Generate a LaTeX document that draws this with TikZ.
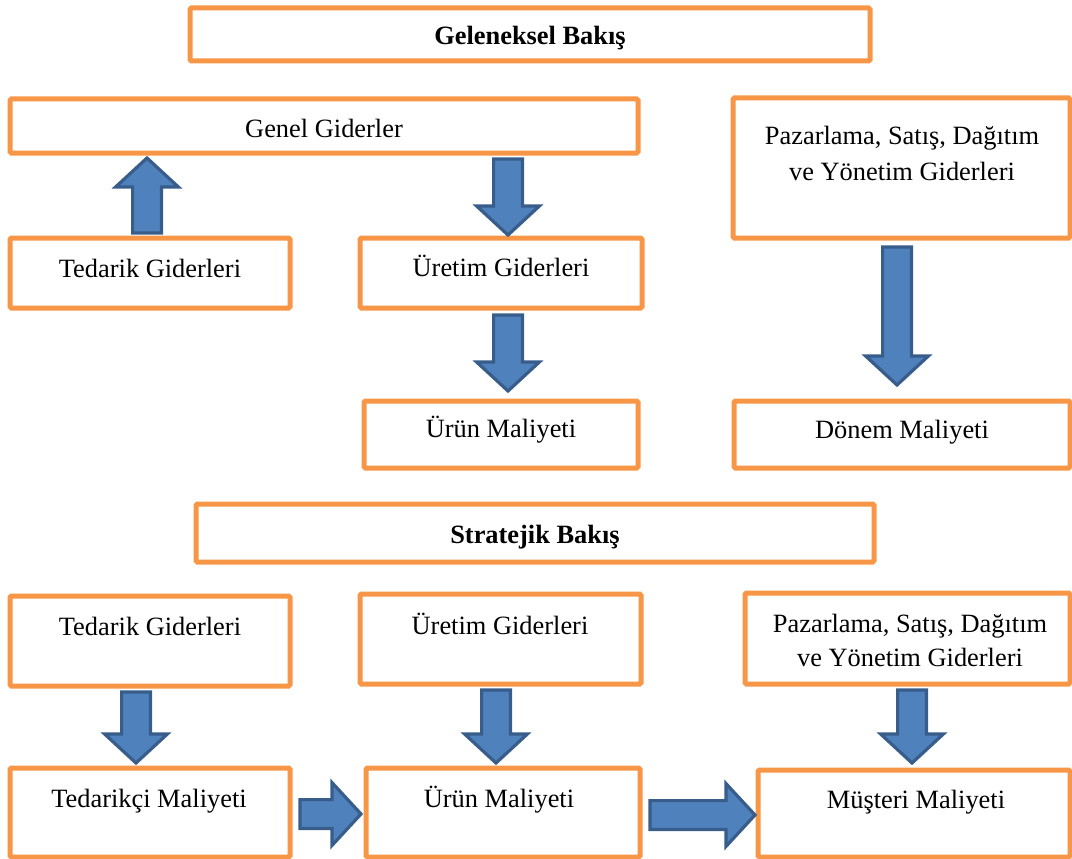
\documentclass[tikz,border=0pt]{standalone}
\usepackage{fontspec}
\setmainfont{Liberation Serif}
\usetikzlibrary{calc,fit}

\definecolor{boxorange}{HTML}{F79646}
\definecolor{arrowfill}{HTML}{4F81BD}
\definecolor{arrowline}{HTML}{385D8A}

\tikzset{
  box/.style={draw=boxorange, line width=5pt, rounded corners=1.5pt, fill=white,
              inner sep=0pt, outer sep=0pt},
  lbl/.style={anchor=base, inner sep=0pt, align=center,
              font=\fontsize{26.4}{35.5}\selectfont},
  barrow/.style={draw=arrowline, fill=arrowfill, line width=3.2pt, line join=miter},
}

% Block arrow from #1 (tail) to #2 (tip): shaft half width 14.4, head half width 31.4, head length 29
\newcommand\blockarrow[2]{%
  \draw[barrow] let \p1=(#1), \p2=(#2),
      \n1={veclen(\x2-\x1,\y2-\y1)},
      \n2={(\x2-\x1)/\n1}, \n3={(\y2-\y1)/\n1},
      \n4={\n1-29} in
    ({\x1-14.4*(\n3)},{\y1+14.4*(\n2)}) --
    ({\x1+\n4*(\n2)-14.4*(\n3)},{\y1+\n4*(\n3)+14.4*(\n2)}) --
    ({\x1+\n4*(\n2)-31.4*(\n3)},{\y1+\n4*(\n3)+31.4*(\n2)}) --
    (\p2) --
    ({\x1+\n4*(\n2)+31.4*(\n3)},{\y1+\n4*(\n3)-31.4*(\n2)}) --
    ({\x1+\n4*(\n2)+14.4*(\n3)},{\y1+\n4*(\n3)-14.4*(\n2)}) --
    ({\x1+14.4*(\n3)},{\y1-14.4*(\n2)}) -- cycle;}

\begin{document}
\begin{tikzpicture}[x=1pt, y=-1pt]
\useasboundingbox (0,0) rectangle (1072,859);

% ---------- traditional view ----------
\node[box, fit={(190,8) (870,61)}]    (geleneksel) {};
\node[box, fit={(10,99) (638,153)}]   (genel) {};
\node[box, fit={(733,98) (1070,238)}] (pazar1) {};
\node[box, fit={(10,238) (290,308)}]  (tedarik1) {};
\node[box, fit={(360,238) (642,308)}] (uretim1) {};
\node[box, fit={(364,401) (638,468)}] (urun1) {};
\node[box, fit={(734,401) (1070,468)}] (donem) {};

\node[lbl, font=\fontsize{26.4}{35.5}\selectfont\bfseries] (t-geleneksel) at (530,45) {Geleneksel Bakış};
\node[lbl] (t-genel)    at (324,137) {Genel Giderler};
% two-line labels: base anchor sits on the last line
\node[lbl] (t-pazar1)   at (902,180) {Pazarlama, Satış, Dağıtım\\ve Yönetim Giderleri};
\node[lbl] (t-tedarik1) at (150,277) {Tedarik Giderleri};
\node[lbl] (t-uretim1)  at (501,276) {Üretim Giderleri};
\node[lbl] (t-urun1)    at (501,437) {Ürün Maliyeti};
\node[lbl] (t-donem)    at (902,438) {Dönem Maliyeti};

% ---------- strategic view ----------
\node[box, fit={(196,504) (874,562)}]  (stratejik) {};
\node[box, fit={(10,596) (290,686)}]   (tedarik2) {};
\node[box, fit={(360,594) (641,684)}]  (uretim2) {};
\node[box, fit={(745,593) (1070,684)}] (pazar2) {};
\node[box, fit={(10,768) (290,857)}]   (tedarikci) {};
\node[box, fit={(366,768) (640,857)}]  (urun2) {};
\node[box, fit={(758,770) (1070,857)}] (musteri) {};

\node[lbl, font=\fontsize{26.4}{35.5}\selectfont\bfseries] (t-stratejik) at (535,543) {Stratejik Bakış};
\node[lbl] (t-tedarik2)  at (150,635) {Tedarik Giderleri};
\node[lbl] (t-uretim2)   at (500,634) {Üretim Giderleri};
\node[lbl, font=\fontsize{26.4}{34}\selectfont] (t-pazar2) at (910,666) {Pazarlama, Satış, Dağıtım\\ve Yönetim Giderleri};
\node[lbl] (t-tedarikci) at (149,807) {Tedarikçi Maliyeti};
\node[lbl] (t-urun2)     at (499,807) {Ürün Maliyeti};
\node[lbl] (t-musteri)   at (916,808) {Müşteri Maliyeti};

% ---------- arrows ----------
\blockarrow{$(tedarik1.north)+(-3,-5)$}{$(tedarik1.north |- genel.south)+(-3,5)$}
\blockarrow{$(uretim1.north |- genel.south)+(7,6)$}{$(uretim1.north)+(7,-3)$}
\blockarrow{$(uretim1.south)+(7,7)$}{$(uretim1.south |- urun1.north)+(7,-10)$}
\blockarrow{$(pazar1.south)+(-4.5,9)$}{$(pazar1.south |- donem.north)+(-4.5,-16)$}

\blockarrow{$(tedarik2.south)+(-14,6)$}{$(tedarikci.north)+(-14,-5)$}
\blockarrow{$(uretim2.south)+(-4.5,6)$}{$(uretim2.south |- urun2.north)+(-4.5,-5)$}
\blockarrow{$(pazar2.south)+(4.5,6)$}{$(pazar2.south |- musteri.north)+(4.5,-7)$}
\blockarrow{$(tedarikci.east)+(10,1.5)$}{$(tedarikci.east -| urun2.west)+(-5,1.5)$}
\blockarrow{$(urun2.east)+(10,2.5)$}{$(urun2.east -| musteri.west)+(-3,2.5)$}
\end{tikzpicture}
\end{document}
